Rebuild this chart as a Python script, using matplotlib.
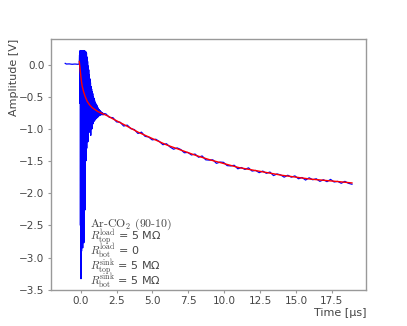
import numpy as np
import matplotlib
matplotlib.use("Agg")
import matplotlib.pyplot as plt

plt.rcParams['mathtext.fontset'] = 'cm'

# ---- data ----
# pre-trigger baseline
pre_t = [-1.08, -1.00, -0.80, -0.60, -0.40, -0.20, -0.12]
pre_v = [0.02, 0.01, 0.012, 0.006, 0.01, 0.006, 0.01]

# ringing region, sampled every 0.02 us from -0.10 to 1.60
osc_v = [0.01, 0.15, -0.60, 0.22, -2.50, 0.22, -3.33, 0.20, -2.90, 0.22,
         -2.60, 0.21, -2.85, 0.22, -2.30, 0.20, -2.77, 0.22, -1.90, 0.18,
         -2.26, 0.21, -1.50, 0.20, -1.49, 0.18, -1.30, 0.12, -1.10, 0.05,
         -1.20, -0.02, -1.05, -0.08, -1.00, -0.16, -1.05, -0.22, -0.95, -0.28,
         -1.10, -0.34, -0.90, -0.38, -1.00, -0.42, -0.88, -0.45, -0.92, -0.50,
         -0.85, -0.52, -0.88, -0.55, -0.84, -0.58, -0.86, -0.60, -0.82, -0.62,
         -0.84, -0.63, -0.80, -0.66, -0.82, -0.67, -0.79, -0.69, -0.80, -0.70,
         -0.78, -0.71, -0.79, -0.72, -0.77, -0.73, -0.78, -0.74, -0.77, -0.75,
         -0.78, -0.75, -0.77, -0.76, -0.78, -0.76]
osc_t = np.linspace(-0.10, 1.60, len(osc_v))

# decay tail (noisy), from 1.75 to 18.9 us
tail_v = [-0.765, -0.820, -0.825, -0.890, -0.895, -0.955, -0.940, -0.995, -1.010, -1.070,
          -1.050, -1.115, -1.125, -1.170, -1.160, -1.195, -1.245, -1.230, -1.280, -1.315,
          -1.295, -1.320, -1.370, -1.365, -1.405, -1.390, -1.440, -1.420, -1.480, -1.485,
          -1.480, -1.535, -1.515, -1.520, -1.570, -1.575, -1.565, -1.620, -1.600, -1.630,
          -1.605, -1.655, -1.645, -1.680, -1.655, -1.690, -1.670, -1.725, -1.700, -1.715,
          -1.750, -1.720, -1.750, -1.730, -1.775, -1.755, -1.795, -1.760, -1.790, -1.775,
          -1.815, -1.790, -1.820, -1.785, -1.825, -1.815, -1.845, -1.815, -1.845, -1.860]
tail_t = np.linspace(1.75, 18.9, len(tail_v))

# fit curve
fit_t = [-0.10, -0.05, 0.00, 0.05, 0.10, 0.20, 0.30, 0.45, 0.60, 0.80, 1.00,
         1.20, 1.50, 1.90, 2.30, 3.00, 4.00, 5.00, 6.00, 7.00, 8.00, 9.00,
         10.0, 11.0, 12.0, 13.0, 14.0, 15.0, 16.0, 17.0, 18.0, 18.9]
fit_v = [0.05, -0.05, -0.16, -0.26, -0.33, -0.42, -0.49, -0.57, -0.62, -0.67,
         -0.70, -0.73, -0.76, -0.80, -0.85, -0.93, -1.05, -1.15, -1.25, -1.33,
         -1.41, -1.48, -1.54, -1.60, -1.64, -1.68, -1.72, -1.75, -1.78, -1.80,
         -1.82, -1.84]

sig_t = np.concatenate([pre_t, osc_t, tail_t])
sig_v = np.concatenate([pre_v, osc_v, tail_v])

annot_lines = [
    "Ar-CO$_2$ (90-10)",
    r"$R^{\mathrm{load}}_{\mathrm{top}}$" + " = 5 M\u03a9",
    r"$R^{\mathrm{load}}_{\mathrm{bot}}$" + " = 0",
    r"$R^{\mathrm{sink}}_{\mathrm{top}}$" + " = 5 M\u03a9",
    r"$R^{\mathrm{sink}}_{\mathrm{bot}}$" + " = 5 M\u03a9",
]

# ---- plotting ----
edge = '#999999'
txt = '#444444'
fig = plt.figure(figsize=(4.07, 3.26), dpi=100)
ax = fig.add_subplot(111)
ax.plot(sig_t, sig_v, color='#0000ff', lw=0.9, zorder=2)
ax.plot(fit_t, fit_v, color='#ff0000', lw=1.0, zorder=3)

for s in ax.spines.values():
    s.set_color(edge)
    s.set_linewidth(1.0)
ax.tick_params(colors=edge, labelcolor=txt, labelsize=7.5, length=2.5,
               width=0.8, pad=2)

ax.set_xlabel("Time [\u03bcs]", loc='right', fontsize=8, color=txt, labelpad=1)
ax.set_ylabel("Amplitude [V]", loc='top', fontsize=8, color=txt, labelpad=0.5)

ys = [0.252, 0.197, 0.139, 0.080, 0.022]
for i, (line, y) in enumerate(zip(annot_lines, ys)):
    fam = 'cmr10' if i == 0 else 'DejaVu Sans'
    fs = 8.5 if i == 0 else 8
    ax.text(0.125, y, line, transform=ax.transAxes, fontsize=fs,
            family=fam, color=txt, va='baseline', ha='left')

fig.savefig("out.png", dpi=100)
